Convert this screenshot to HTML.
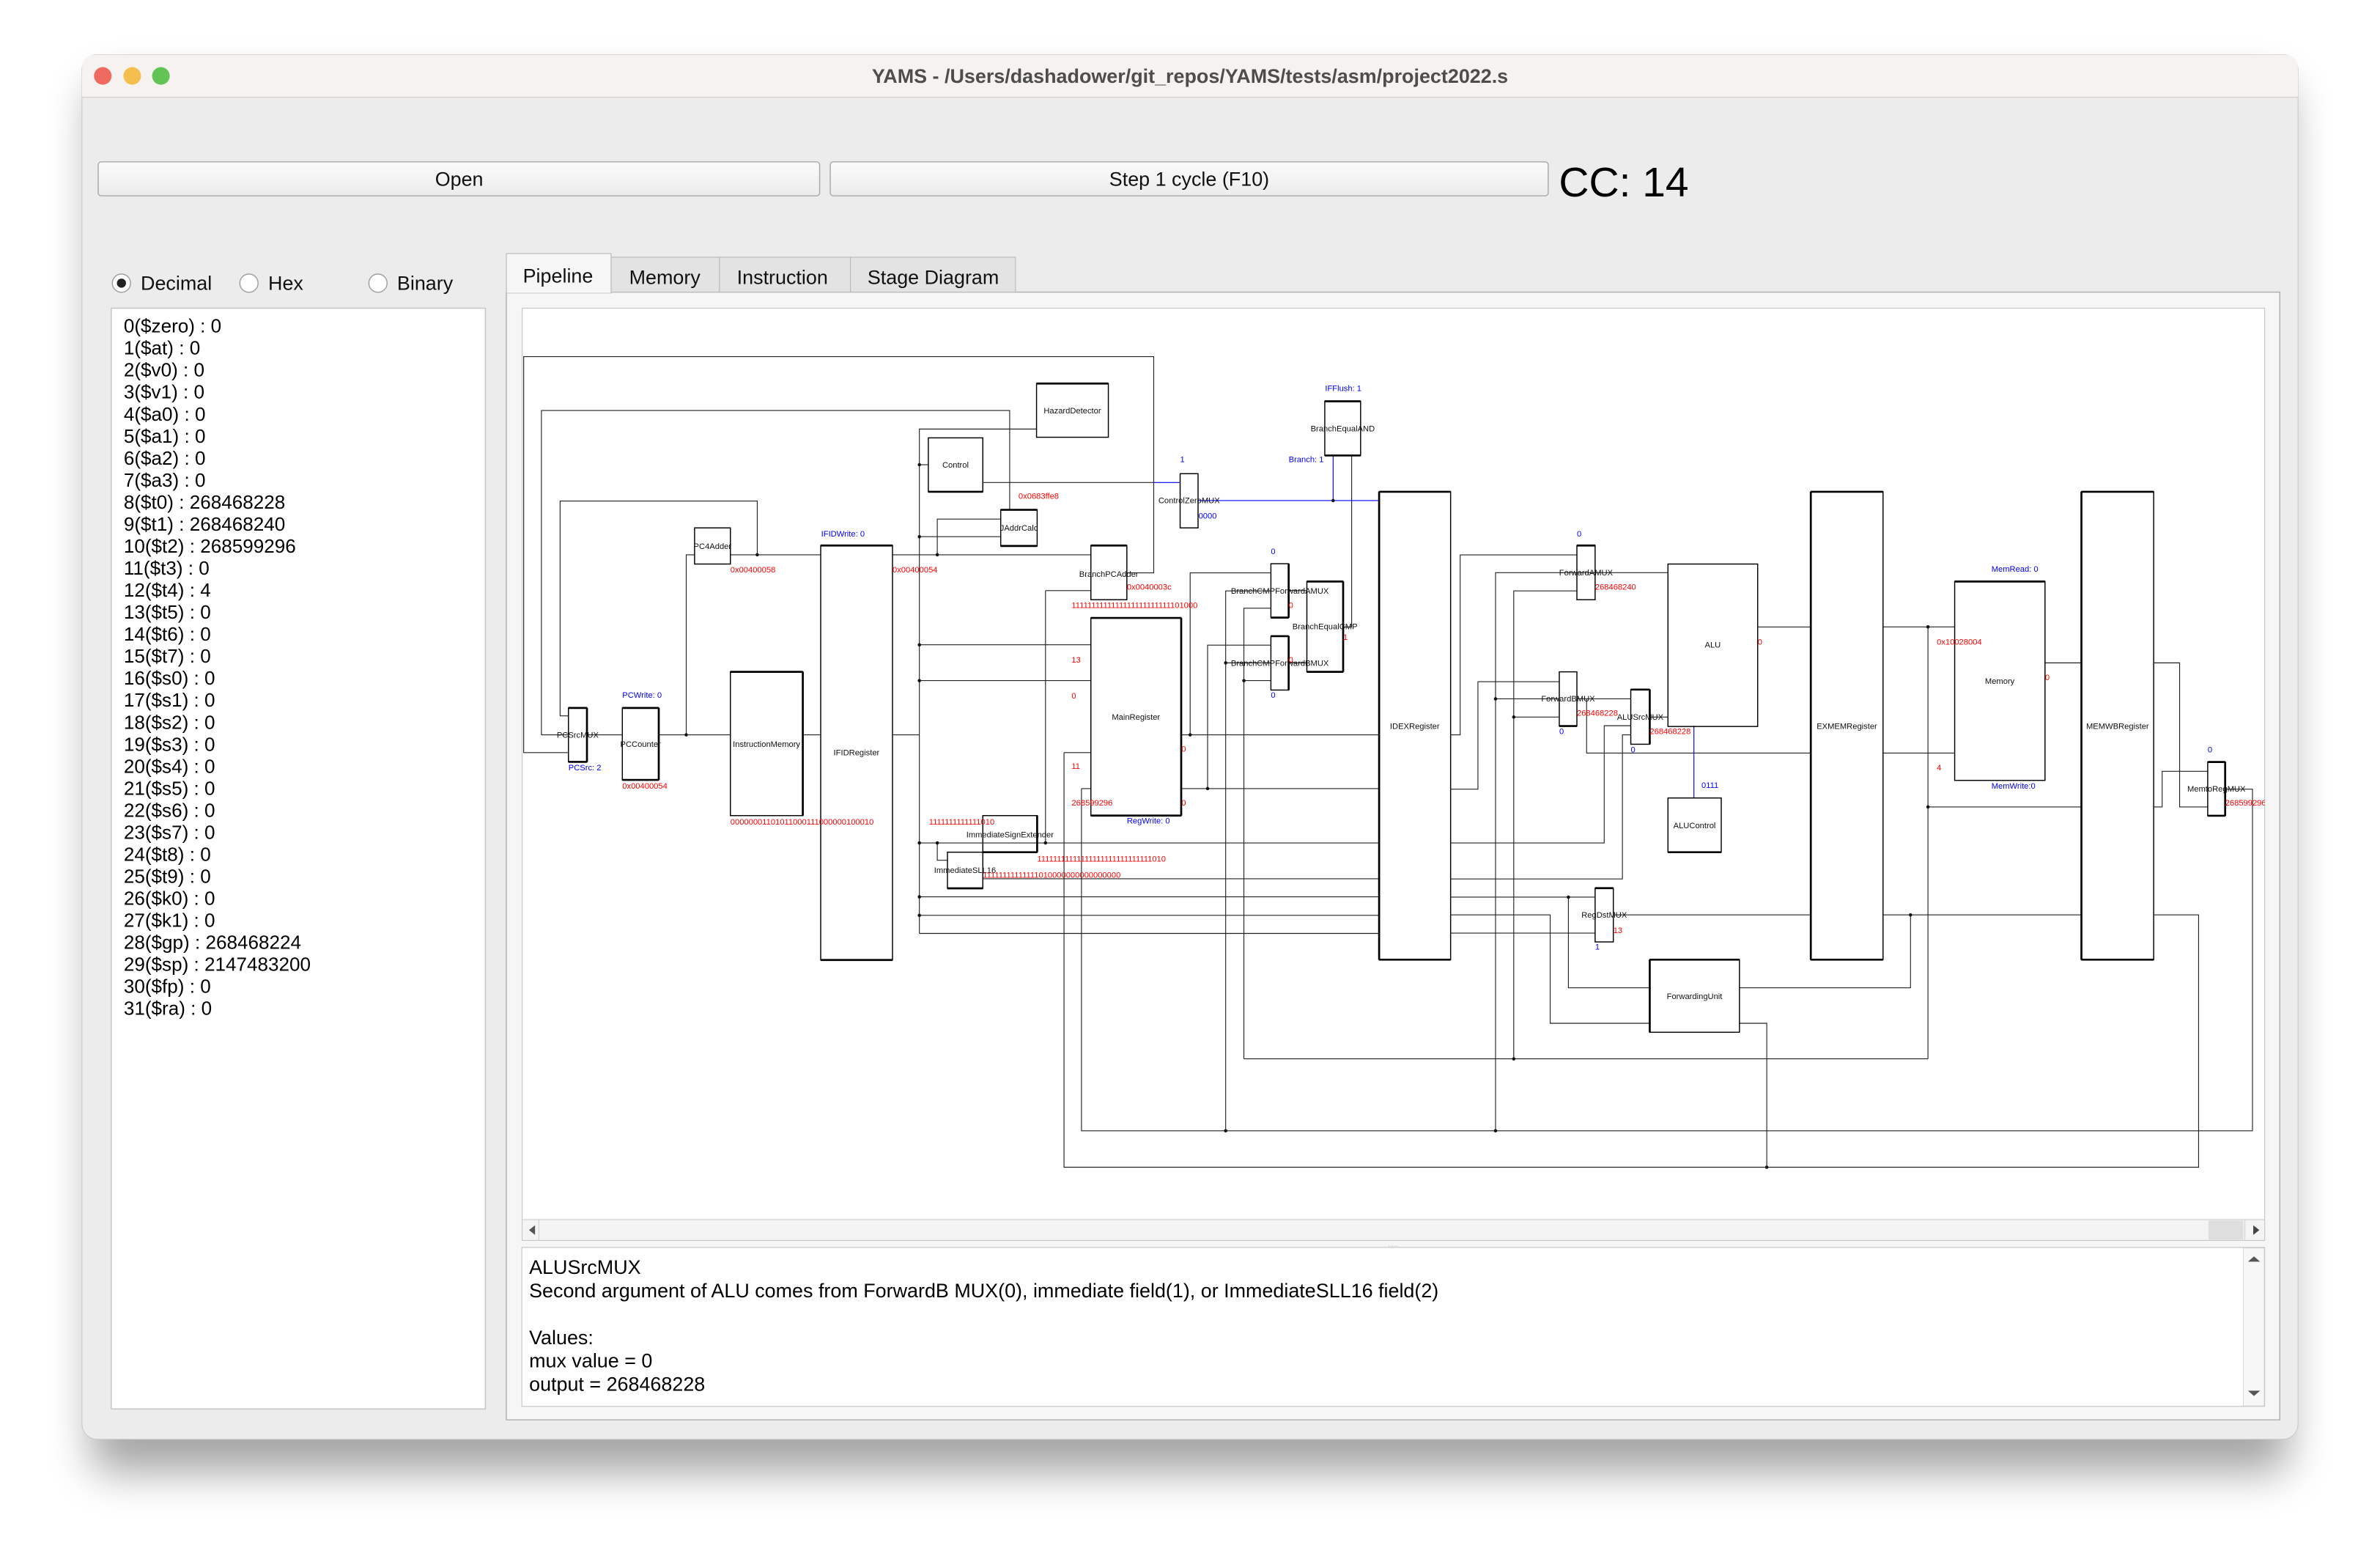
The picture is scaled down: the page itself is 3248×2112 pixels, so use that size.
<!DOCTYPE html>
<html><head><meta charset="utf-8"><style>
html,body{margin:0;padding:0;background:#fff;}
svg{display:block;}
text{font-family:"Liberation Sans",sans-serif;}
</style></head><body>
<svg width="3248" height="2112" viewBox="0 0 1568 1019.6" xmlns="http://www.w3.org/2000/svg">
<defs>
<filter id="sh" x="-10%" y="-10%" width="120%" height="130%"><feGaussianBlur stdDeviation="14"/></filter>
<linearGradient id="btn" x1="0" y1="0" x2="0" y2="1"><stop offset="0" stop-color="#fbfbfb"/><stop offset="1" stop-color="#ececec"/></linearGradient>
<clipPath id="dclip"><rect x="344" y="203" width="1148" height="600"/></clipPath>
</defs>
<rect x="0" y="0" width="1568" height="1019.6" fill="#ffffff"/>
<rect x="60" y="55" width="1448" height="915" rx="12" fill="#000" opacity="0.35" filter="url(#sh)"/>
<rect x="54" y="36" width="1460" height="912" rx="10" fill="#ececec" stroke="#c8c8c8" stroke-width="0.5"/>
<path d="M54 64 V46 Q54 36 64 36 H1504 Q1514 36 1514 46 V64 Z" fill="#f6f2ef"/>
<line x1="54" y1="64" x2="1514" y2="64" stroke="#d2d0ce" stroke-width="0.6"/>
<circle cx="67.7" cy="50" r="5.8" fill="#ee6a5f"/>
<circle cx="87.1" cy="50" r="5.8" fill="#f5bf4f"/>
<circle cx="106" cy="50" r="5.8" fill="#61c454"/>
<text x="784" y="54.5" font-size="13" font-weight="bold" fill="#4d4d4d" text-anchor="middle">YAMS - /Users/dashadower/git_repos/YAMS/tests/asm/project2022.s</text>
<rect x="64.7" y="106.6" width="475.3" height="22.4" rx="2" fill="url(#btn)" stroke="#a9a9a9" stroke-width="0.7"/>
<text x="302.5" y="122.5" font-size="13" text-anchor="middle" fill="#111">Open</text>
<rect x="547" y="106.6" width="473" height="22.4" rx="2" fill="url(#btn)" stroke="#a9a9a9" stroke-width="0.7"/>
<text x="783.5" y="122.5" font-size="13" text-anchor="middle" fill="#111">Step 1 cycle (F10)</text>
<text x="1027" y="129.5" font-size="27.5" fill="#000">CC: 14</text>
<circle cx="80" cy="186.5" r="6" fill="#fff" stroke="#a0a0a0" stroke-width="0.7"/>
<circle cx="80" cy="186.5" r="3" fill="#222"/>
<text x="92.7" y="191" font-size="13" fill="#111">Decimal</text>
<circle cx="164" cy="186.5" r="6" fill="#fff" stroke="#a0a0a0" stroke-width="0.7"/>
<text x="176.7" y="191" font-size="13" fill="#111">Hex</text>
<circle cx="249" cy="186.5" r="6" fill="#fff" stroke="#a0a0a0" stroke-width="0.7"/>
<text x="261.6" y="191" font-size="13" fill="#111">Binary</text>
<rect x="73.3" y="203" width="246.5" height="725" fill="#fff" stroke="#c4c4c4" stroke-width="0.7"/>
<g font-size="12.6" fill="#000">
<text x="81.5" y="219">0($zero) : 0</text>
<text x="81.5" y="233.5">1($at) : 0</text>
<text x="81.5" y="248">2($v0) : 0</text>
<text x="81.5" y="262.5">3($v1) : 0</text>
<text x="81.5" y="277">4($a0) : 0</text>
<text x="81.5" y="291.5">5($a1) : 0</text>
<text x="81.5" y="306">6($a2) : 0</text>
<text x="81.5" y="320.5">7($a3) : 0</text>
<text x="81.5" y="335">8($t0) : 268468228</text>
<text x="81.5" y="349.5">9($t1) : 268468240</text>
<text x="81.5" y="364">10($t2) : 268599296</text>
<text x="81.5" y="378.5">11($t3) : 0</text>
<text x="81.5" y="393">12($t4) : 4</text>
<text x="81.5" y="407.5">13($t5) : 0</text>
<text x="81.5" y="422">14($t6) : 0</text>
<text x="81.5" y="436.5">15($t7) : 0</text>
<text x="81.5" y="451">16($s0) : 0</text>
<text x="81.5" y="465.5">17($s1) : 0</text>
<text x="81.5" y="480">18($s2) : 0</text>
<text x="81.5" y="494.5">19($s3) : 0</text>
<text x="81.5" y="509">20($s4) : 0</text>
<text x="81.5" y="523.5">21($s5) : 0</text>
<text x="81.5" y="538">22($s6) : 0</text>
<text x="81.5" y="552.5">23($s7) : 0</text>
<text x="81.5" y="567">24($t8) : 0</text>
<text x="81.5" y="581.5">25($t9) : 0</text>
<text x="81.5" y="596">26($k0) : 0</text>
<text x="81.5" y="610.5">27($k1) : 0</text>
<text x="81.5" y="625">28($gp) : 268468224</text>
<text x="81.5" y="639.5">29($sp) : 2147483200</text>
<text x="81.5" y="654">30($fp) : 0</text>
<text x="81.5" y="668.5">31($ra) : 0</text>
</g>
<rect x="333.6" y="192.4" width="1168.4" height="742.8" fill="#f6f6f6" stroke="#b0b0b0" stroke-width="0.7"/>
<rect x="402.6" y="169.4" width="71.4" height="23" fill="#e3e3e3" stroke="#bdbdbd" stroke-width="0.6"/>
<rect x="474" y="169.4" width="86.3" height="23" fill="#e3e3e3" stroke="#bdbdbd" stroke-width="0.6"/>
<rect x="560.3" y="169.4" width="108.7" height="23" fill="#e3e3e3" stroke="#bdbdbd" stroke-width="0.6"/>
<rect x="333.6" y="167" width="69" height="26" fill="#f6f6f6" stroke="#bdbdbd" stroke-width="0.6"/>
<line x1="334" y1="192.4" x2="402.3" y2="192.4" stroke="#f6f6f6" stroke-width="1"/>
<g font-size="13" fill="#111">
<text x="344.5" y="186">Pipeline</text>
<text x="414.5" y="187">Memory</text>
<text x="485.5" y="187">Instruction</text>
<text x="571.5" y="187">Stage Diagram</text>
</g>
<rect x="344" y="203" width="1148" height="614" fill="#fff" stroke="#c8c8c8" stroke-width="0.6"/>
<g clip-path="url(#dclip)">
<g fill="none" stroke="#222" stroke-width="0.55">
<path d="M374.5 495.7 H345 V234.9 H760.1 V377.3 H742.4"/>
<path d="M374.5 484 H356.7 V270.4 H665.2 V335.8"/>
<path d="M374.5 471.5 H369 V330 H498.9 V365.4"/>
<path d="M386.7 484 H410 M434 484 H481.2 M528.9 484 H540.7 M588 484 H605.7"/>
<path d="M452.1 484 V365.4 H457.6 M481.2 365.4 H540.7"/>
<path d="M588 365.4 H718.7 M617.5 365.4 V341.9 H659.3"/>
<path d="M682.9 282.6 H605.7 V614.8 M605.7 306.1 H611.6 M605.7 353.5 H659.3"/>
<path d="M605.7 424.7 H718.7 M605.7 448.3 H718.7"/>
<path d="M605.7 555.2 H908.6 M605.7 590.7 H908.6 M605.7 602.9 H908.6 M605.7 614.8 H908.6"/>
<path d="M647.5 317.8 H760"/>
<path d="M890.5 300 V413 H884.9"/>
<path d="M688.8 389 H718.7 M688.8 389 V555.2"/>
<path d="M701 495.7 H718.7 M701 495.7 V768.8 H1448.5 V602.6 H1418.9"/>
<path d="M712.5 519.4 H718.7 M712.5 519.4 V744.8 H1484 V519.8 H1466"/>
<path d="M778.2 484 H908.6 M784.1 484 V377.3 H837.3"/>
<path d="M778.2 519.4 H908.6 M795.6 519.4 V424.9 H837.3"/>
<path d="M807.5 744.8 V389.2 H837.3 M807.5 436.6 H837.3"/>
<path d="M819.5 697.4 V400.6 H837.3 M819.5 448.3 H837.3 M819.5 697.4 H1270.2"/>
<path d="M849 389 H861 M849 436.6 H861"/>
<path d="M647.5 578.8 H908.6 M617.5 555.2 V566.6 H624.2"/>
<path d="M955.7 484 H962 V365.5 H1038.9"/>
<path d="M985.3 744.8 V377.2 H1098.9 M985.3 460.3 H1027.3"/>
<path d="M997.3 697.4 V389.2 H1038.9 M997.3 472.3 H1027.3"/>
<path d="M955.7 519.8 H973.7 V449 H1027.3"/>
<path d="M1038.9 460.3 H1074.4 M1086.9 472.3 H1098.9"/>
<path d="M1045.3 460.3 V496 H1193"/>
<path d="M955.7 555.2 H1056.9 V478 H1074.4"/>
<path d="M955.7 578.9 H1068.9 V484 H1074.4"/>
<path d="M1158 413 H1193"/>
<path d="M955.7 590.9 H1050.9 M1033.3 590.9 V650.6 H1086.9"/>
<path d="M955.7 602.6 H1021.3 V674 H1086.9"/>
<path d="M955.7 614.6 H1050.9 M1062.9 602.6 H1193"/>
<path d="M1146 650.6 H1258.7 V602.6"/>
<path d="M1146 674 H1164 V768.8"/>
<path d="M1240.6 412.9 H1287.8 M1270.2 412.9 V697.4 M1270.2 531.5 H1371.3"/>
<path d="M1240.6 496 H1287.8 M1347.3 436.6 H1371.3 M1240.6 602.6 H1371.3"/>
<path d="M1418.9 436.6 H1436 V531.5 H1454.5 M1418.9 531.5 H1424.5 V508 H1454.5"/>
</g>
<g fill="none" stroke="#0000ff" stroke-width="0.55">
<path d="M760 317.8 H777.5 M789.3 329.7 H908.6 M878.3 329.7 V300 M1116 478 V525.6"/>
</g>
<g fill="#111">
<circle cx="605.7" cy="306.1" r="1.1"/><circle cx="605.7" cy="353.5" r="1.1"/><circle cx="605.7" cy="424.7" r="1.1"/><circle cx="605.7" cy="448.3" r="1.1"/><circle cx="605.7" cy="555.2" r="1.1"/><circle cx="605.7" cy="590.7" r="1.1"/><circle cx="605.7" cy="602.9" r="1.1"/><circle cx="617.5" cy="365.4" r="1.1"/><circle cx="498.9" cy="365.4" r="1.1"/><circle cx="452.1" cy="484" r="1.1"/><circle cx="688.8" cy="555.2" r="1.1"/><circle cx="617.5" cy="555.2" r="1.1"/><circle cx="878.3" cy="329.7" r="1.1"/><circle cx="784.1" cy="484" r="1.1"/><circle cx="795.6" cy="519.4" r="1.1"/><circle cx="807.5" cy="436.6" r="1.1"/><circle cx="819.5" cy="448.3" r="1.1"/><circle cx="807.5" cy="744.8" r="1.1"/><circle cx="985.3" cy="744.8" r="1.1"/><circle cx="985.3" cy="460.3" r="1.1"/><circle cx="997.3" cy="472.3" r="1.1"/><circle cx="997.3" cy="697.4" r="1.1"/><circle cx="1033.3" cy="590.9" r="1.1"/><circle cx="1258.7" cy="602.6" r="1.1"/><circle cx="1164" cy="768.8" r="1.1"/><circle cx="1270.2" cy="412.9" r="1.1"/><circle cx="1270.2" cy="531.5" r="1.1"/>
</g>
<g fill="none" stroke="#000" stroke-width="0.7">
<rect x="682.9" y="252.6" width="47.3" height="35.4"/>
<rect x="611.6" y="288.4" width="35.9" height="35.5"/>
<rect x="872.8" y="264.3" width="23.6" height="35.7"/>
<rect x="777.5" y="312" width="11.8" height="35.7"/>
<rect x="659.3" y="335.8" width="24" height="23.8"/>
<rect x="457.6" y="347.7" width="23.6" height="23.8"/>
<rect x="540.7" y="359.3" width="47.3" height="273"/>
<rect x="718.7" y="359.3" width="23.7" height="35.7"/>
<rect x="718.7" y="407" width="59.5" height="130.2"/>
<rect x="481.2" y="442.5" width="47.7" height="94.7"/>
<rect x="374.5" y="466.3" width="12.2" height="35.5"/>
<rect x="410" y="466.3" width="24" height="47.4"/>
<rect x="647.5" y="537.2" width="35.8" height="24.1"/>
<rect x="624.2" y="561.3" width="23.3" height="23.8"/>
<rect x="837.3" y="371.3" width="11.7" height="35.5"/>
<rect x="861" y="383" width="23.9" height="59.5"/>
<rect x="837.3" y="419" width="11.7" height="35.5"/>
<rect x="908.6" y="323.9" width="47.1" height="308.2"/>
<rect x="1038.9" y="359.3" width="12" height="35.7"/>
<rect x="1098.9" y="371.5" width="59.1" height="107"/>
<rect x="1027.3" y="442.5" width="11.6" height="35.7"/>
<rect x="1074.4" y="454.2" width="12.5" height="36"/>
<rect x="1098.9" y="525.6" width="35.1" height="35.7"/>
<rect x="1050.9" y="585" width="12" height="35.4"/>
<rect x="1086.9" y="632.1" width="59.1" height="47.8"/>
<rect x="1193" y="323.9" width="47.6" height="308.2"/>
<rect x="1287.8" y="383" width="59.5" height="131"/>
<rect x="1371.3" y="323.9" width="47.6" height="308.2"/>
<rect x="1454.5" y="501.9" width="11.5" height="35.4"/>
</g>
<g stroke="#000" stroke-width="1.3" fill="none">
<path d="M682.9 252.6 H730.2 M611.6 323.9 H647.5 M872.8 264.3 H896.4 M872.8 300 H896.4 M659.3 335.8 H683.3 M659.3 359.6 H683.3 M540.7 359.3 H588 M540.7 632.3 H588 M718.7 359.3 H742.4 M718.7 407 H778.2 M718.7 537.2 H778.2 M778.2 407 V537.2 M481.2 442.5 H528.9 M528.9 442.5 V537.2 M374.5 466.3 H386.7 M374.5 501.8 H386.7 M386.7 466.3 V501.8 M410 466.3 H434 M410 513.7 H434 M434 466.3 V513.7 M647.5 561.3 H683.3 M683.3 537.2 V561.3 M624.2 585.1 H647.5 M837.3 406.8 H849 M837.3 419 H849 M849 371.3 V406.8 M849 419 V454.5 M861 383 H884.9 M861 442.5 H884.9 M884.9 383 V442.5 M908.6 323.9 H955.7 M908.6 632.1 H955.7 M908.6 323.9 V632.1 M1038.9 359.3 H1050.9 M1027.3 478.2 H1038.9 M1074.4 454.2 H1086.9 M1086.9 454.2 V490.2 M1098.9 561.3 H1134 M1050.9 585 H1062.9 M1086.9 632.1 H1146 M1086.9 632.1 V679.9 M1193 323.9 H1240.6 M1193 632.1 H1240.6 M1193 323.9 V632.1 M1287.8 383 H1347.3 M1371.3 323.9 H1418.9 M1371.3 632.1 H1418.9 M1371.3 323.9 V632.1 M1454.5 501.9 H1466 M1466 501.9 V537.3 M1454.5 537.3 H1466"/>
</g>
<g font-size="5.4" fill="#111" text-anchor="middle">
<text x="706.5" y="272.3">HazardDetector</text>
<text x="629.5" y="308">Control</text>
<text x="884.6" y="284">BranchEqualAND</text>
<text x="783.4" y="331.5">ControlZeroMUX</text>
<text x="671.3" y="349.5">JAddrCalc</text>
<text x="469.4" y="361.5">PC4Adder</text>
<text x="564.3" y="497.5">IFIDRegister</text>
<text x="730.5" y="380">BranchPCAdder</text>
<text x="748.4" y="474">MainRegister</text>
<text x="505" y="492">InstructionMemory</text>
<text x="380.6" y="486">PCSrcMUX</text>
<text x="422" y="492">PCCounter</text>
<text x="665.4" y="551.5">ImmediateSignExtender</text>
<text x="635.8" y="575">ImmediateSLL16</text>
<text x="843.2" y="391">BranchCMPForwardAMUX</text>
<text x="872.9" y="414.5">BranchEqualCMP</text>
<text x="843.2" y="438.5">BranchCMPForwardBMUX</text>
<text x="932.1" y="480">IDEXRegister</text>
<text x="1044.9" y="379">ForwardAMUX</text>
<text x="1128.4" y="426.5">ALU</text>
<text x="1033.1" y="462">ForwardBMUX</text>
<text x="1080.6" y="474">ALUSrcMUX</text>
<text x="1116.4" y="545.5">ALUControl</text>
<text x="1056.9" y="604.5">RegDstMUX</text>
<text x="1116.4" y="658">ForwardingUnit</text>
<text x="1216.8" y="480">EXMEMRegister</text>
<text x="1317.5" y="450.5">Memory</text>
<text x="1395.1" y="480">MEMWBRegister</text>
<text x="1460.2" y="521.5">MemtoRegMUX</text>
</g>
<g font-size="5.4" fill="#ff0000">
<text x="671" y="328.5">0x0683ffe8</text>
<text x="481.2" y="377">0x00400058</text>
<text x="588" y="377">0x00400054</text>
<text x="742.4" y="388.5">0x0040003c</text>
<text x="706" y="400.5">1111111111111111111111111101000</text>
<text x="706" y="436.5">13</text>
<text x="706" y="460">0</text>
<text x="706" y="506.5">11</text>
<text x="706" y="530.5">268599296</text>
<text x="778.4" y="495">0</text>
<text x="778.4" y="530.5">0</text>
<text x="410" y="519.5">0x00400054</text>
<text x="481.2" y="543">00000001101011000111000000100010</text>
<text x="612" y="543">1111111111111010</text>
<text x="683.3" y="567.5">11111111111111111111111111111010</text>
<text x="647.5" y="578">11111111111111010000000000000000</text>
<text x="849" y="400.5">0</text>
<text x="849" y="436.5">0</text>
<text x="884.9" y="421.5">1</text>
<text x="1050.9" y="388.5">268468240</text>
<text x="1158" y="424.5">0</text>
<text x="1038.9" y="471.5">268468228</text>
<text x="1086.9" y="483.5">268468228</text>
<text x="1062.9" y="614.5">13</text>
<text x="1276" y="424.5">0x10028004</text>
<text x="1347.3" y="448">0</text>
<text x="1276" y="507.5">4</text>
<text x="1466" y="530.5">268599296</text>
</g>
<g font-size="5.4" fill="#0000ff">
<text x="873" y="257.5">IFFlush: 1</text>
<text x="849" y="304.5">Branch: 1</text>
<text x="777.5" y="304.5">1</text>
<text x="789.6" y="341.5">0000</text>
<text x="541" y="353.5">IFIDWrite: 0</text>
<text x="410" y="459.5">PCWrite: 0</text>
<text x="374.5" y="507.5">PCSrc: 2</text>
<text x="742.4" y="542.5">RegWrite: 0</text>
<text x="837.3" y="365">0</text>
<text x="837.3" y="459.5">0</text>
<text x="1038.9" y="353.5">0</text>
<text x="1027.3" y="483.5">0</text>
<text x="1074.4" y="495.5">0</text>
<text x="1121" y="519">0111</text>
<text x="1050.9" y="625.5">1</text>
<text x="1312" y="376.5">MemRead: 0</text>
<text x="1312" y="519.5">MemWrite:0</text>
<text x="1454.5" y="495.5">0</text>
</g>
</g>
<rect x="344" y="803.3" width="1148" height="13.7" fill="#f4f4f4" stroke="#c8c8c8" stroke-width="0.5"/>
<line x1="355" y1="803.5" x2="355" y2="817" stroke="#d0d0d0" stroke-width="0.5"/>
<path d="M348.5 810.2 L352.5 807 V813.4 Z" fill="#555"/>
<rect x="1455" y="804" width="23" height="12.5" fill="#dedede"/>
<line x1="1479" y1="803.5" x2="1479" y2="817" stroke="#d0d0d0" stroke-width="0.5"/>
<path d="M1488.5 810.2 L1484.5 807 V813.4 Z" fill="#444"/>
<text x="918" y="821" font-size="4" fill="#aaa" text-anchor="middle">......</text>
<rect x="343.8" y="821.6" width="1148.2" height="104.7" fill="#fff" stroke="#c8c8c8" stroke-width="0.6"/>
<rect x="1478" y="822" width="13.7" height="104" fill="#f7f7f7" stroke="#d0d0d0" stroke-width="0.4"/>
<path d="M1481 831 L1485 827.5 L1489 831 Z" fill="#555"/>
<path d="M1481 916 L1485 919.5 L1489 916 Z" fill="#555"/>
<g font-size="13" fill="#000">
<text x="348.6" y="839">ALUSrcMUX</text>
<text x="348.6" y="854.5">Second argument of ALU comes from ForwardB MUX(0), immediate field(1), or ImmediateSLL16 field(2)</text>
<text x="348.6" y="885.5">Values:</text>
<text x="348.6" y="900.7">mux value = 0</text>
<text x="348.6" y="916.1">output = 268468228</text>
</g>
</svg>
</body></html>
